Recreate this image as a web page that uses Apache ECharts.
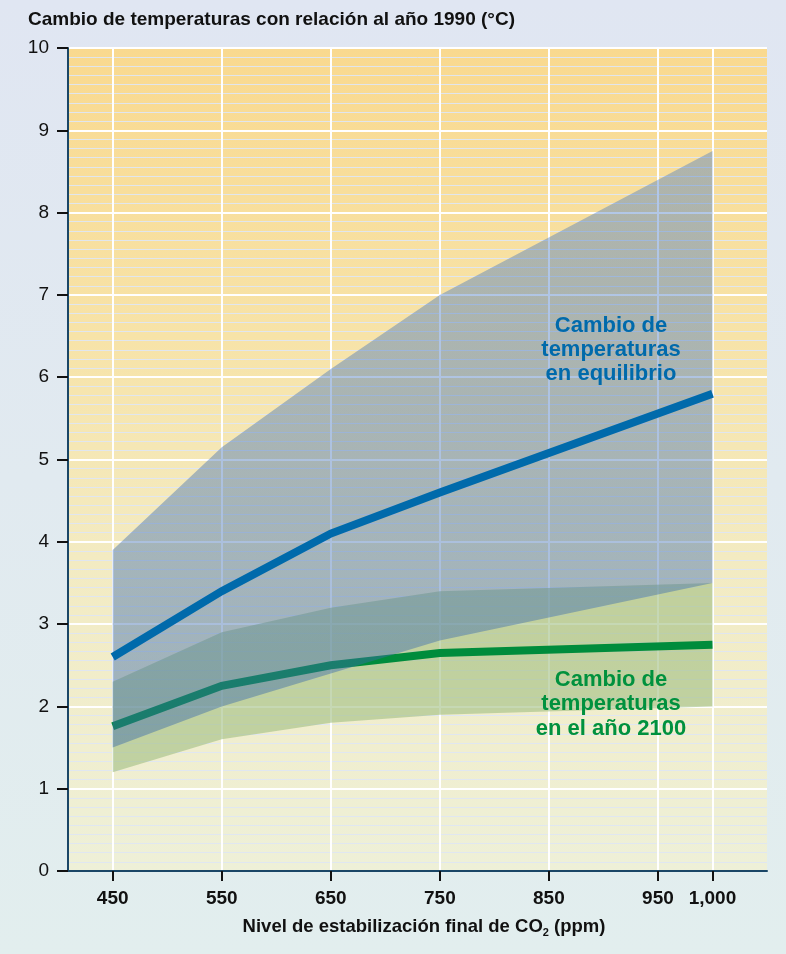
<!DOCTYPE html>
<html>
<head>
<meta charset="utf-8">
<script src="https://cdn.jsdelivr.net/npm/echarts@6/dist/echarts.min.js"></script>
<style>
html,body{margin:0;padding:0;}
#c{width:786px;height:954px;}
</style>
</head>
<body>
<div id="c"></div>
<script>
// ---- data ----
const xValues = [450, 550, 650, 750, 1000];
const eqUpper = [3.9, 5.15, 6.1, 7.0, 8.75];
const eqLower = [1.5, 2.0, 2.4, 2.8, 3.5];
const eqLine = [2.6, 3.4, 4.1, 4.6, 5.8];
const y2100Upper = [2.3, 2.9, 3.2, 3.4, 3.5];
const y2100Lower = [1.2, 1.6, 1.8, 1.9, 2.0];
const y2100Line = [1.76, 2.25, 2.5, 2.65, 2.75];
const xTickValues = [450, 550, 650, 750, 850, 950, 1000];
const xTickLabels = ['450', '550', '650', '750', '850', '950', '1,000'];
const titleText = 'Cambio de temperaturas con relación al año 1990 (°C)';
const eqLabel = 'Cambio de\ntemperaturas\nen equilibrio';
const y2100Label = 'Cambio de\ntemperaturas\nen el año 2100';

const pairs = (ys) => xValues.map((x, i) => [x, ys[i]]);
const bandData = (lo, hi) => xValues.map((x, i) => [x, lo[i], hi[i]]);

const FONT = '"Liberation Sans", Arial, Helvetica, sans-serif';
const chart = echarts.init(document.getElementById('c'), null, {renderer: 'canvas'});

function bandRenderer(fill) {
  return function (params, api) {
    if (params.dataIndex !== 0) return null;
    const top = [], bottom = [];
    for (let i = 0; i < xValues.length; i++) {
      const x = api.value(0, i);
      top.push(api.coord([x, api.value(2, i)]));
      bottom.push(api.coord([x, api.value(1, i)]));
    }
    return {
      type: 'polygon',
      shape: {points: top.concat(bottom.reverse())},
      style: {fill: fill}
    };
  };
}

chart.setOption({
  animation: false,
  backgroundColor: new echarts.graphic.LinearGradient(0, 0, 0, 1, [
    {offset: 0, color: '#e0e6f2'},
    {offset: 1, color: '#e2eeee'}
  ]),
  grid: {
    left: 68, right: 19, top: 48, bottom: 83,
    show: true, borderWidth: 0,
    backgroundColor: new echarts.graphic.LinearGradient(0, 0, 0, 1, [
      {offset: 0, color: '#f9d98f'},
      {offset: 0.35, color: '#f7e3a8'},
      {offset: 0.62, color: '#f3ebc2'},
      {offset: 1, color: '#eef0d8'}
    ])
  },
  xAxis: {
    type: 'value', min: 409, max: 1050,
    axisLine: {show: true, onZero: false, lineStyle: {color: '#1a4666', width: 2}},
    axisTick: {show: true, length: 10, lineStyle: {color: '#111', width: 2}, customValues: xTickValues},
    axisLabel: {
      customValues: xTickValues,
      formatter: (v) => xTickLabels[xTickValues.indexOf(Math.round(v))] || '',
      fontFamily: FONT, fontWeight: 'bold', fontSize: 19, color: '#111', margin: 18
    },
    splitLine: {show: true, lineStyle: {color: '#ffffff', width: 2}}
  },
  yAxis: {
    type: 'value', min: 0, max: 10, interval: 1,
    axisLine: {show: true, lineStyle: {color: '#1a4666', width: 2}},
    axisTick: {show: true, length: 11, lineStyle: {color: '#111', width: 2}},
    axisLabel: {fontFamily: FONT, fontSize: 19, color: '#111', margin: 19},
    splitLine: {show: true, lineStyle: {color: '#ffffff', width: 2}},
    minorTick: {show: false, splitNumber: 9},
    minorSplitLine: {show: true, lineStyle: {color: 'rgba(222,230,242,0.95)', width: 1}}
  },
  series: [
    {type: 'custom', name: 'band2100', data: bandData(y2100Lower, y2100Upper), z: 2, silent: true,
      encode: {x: 0, y: [1, 2]},
      renderItem: bandRenderer('rgba(160,190,130,0.6)')},
    {type: 'line', name: 'line2100', data: pairs(y2100Line), z: 3, symbol: 'none', silent: true,
      lineStyle: {color: '#008c3c', width: 8, cap: 'butt', join: 'miter'}},
    {type: 'custom', name: 'bandEq', data: bandData(eqLower, eqUpper), z: 4, silent: true,
      encode: {x: 0, y: [1, 2]},
      renderItem: bandRenderer(new echarts.graphic.LinearGradient(0, 0, 0, 1, [
        {offset: 0, color: 'rgba(66,119,199,0.4)'},
        {offset: 0.5, color: 'rgba(62,110,180,0.42)'},
        {offset: 1, color: 'rgba(58,105,168,0.45)'}
      ]))},
    {type: 'line', name: 'lineEq', data: pairs(eqLine), z: 5, symbol: 'none', silent: true,
      lineStyle: {color: '#006aab', width: 8, cap: 'butt', join: 'miter'}}
  ],
  graphic: [
    {type: 'text', x: 28, y: 20, z: 10, silent: true,
      style: {text: titleText, fontFamily: FONT, fontWeight: 'bold', fontSize: 19, fill: '#111',
        align: 'left', textAlign: 'left', verticalAlign: 'middle', textVerticalAlign: 'middle'}},
    {type: 'text', x: 611, y: 350, z: 10, silent: true,
      style: {text: eqLabel, fontFamily: FONT, fontWeight: 'bold', fontSize: 22, lineHeight: 24, fill: '#006aab',
        align: 'center', textAlign: 'center', verticalAlign: 'middle', textVerticalAlign: 'middle'}},
    {type: 'text', x: 611, y: 704, z: 10, silent: true,
      style: {text: y2100Label, fontFamily: FONT, fontWeight: 'bold', fontSize: 22, lineHeight: 24.5, fill: '#00913e',
        align: 'center', textAlign: 'center', verticalAlign: 'middle', textVerticalAlign: 'middle'}},
    {type: 'text', x: 424, y: 927, z: 10, silent: true,
      style: {
        text: '{a|Nivel de estabilización final de CO}{s|2}{a| (ppm)}',
        align: 'center', textAlign: 'center', verticalAlign: 'middle', textVerticalAlign: 'middle',
        rich: {
          a: {fontFamily: FONT, fontWeight: 'bold', fontSize: 18.5, lineHeight: 22, fill: '#111', color: '#111'},
          s: {fontFamily: FONT, fontWeight: 'bold', fontSize: 11, lineHeight: 12, fill: '#111', color: '#111', verticalAlign: 'bottom'}
        }
      }}
  ]
});
</script>
</body>
</html>
